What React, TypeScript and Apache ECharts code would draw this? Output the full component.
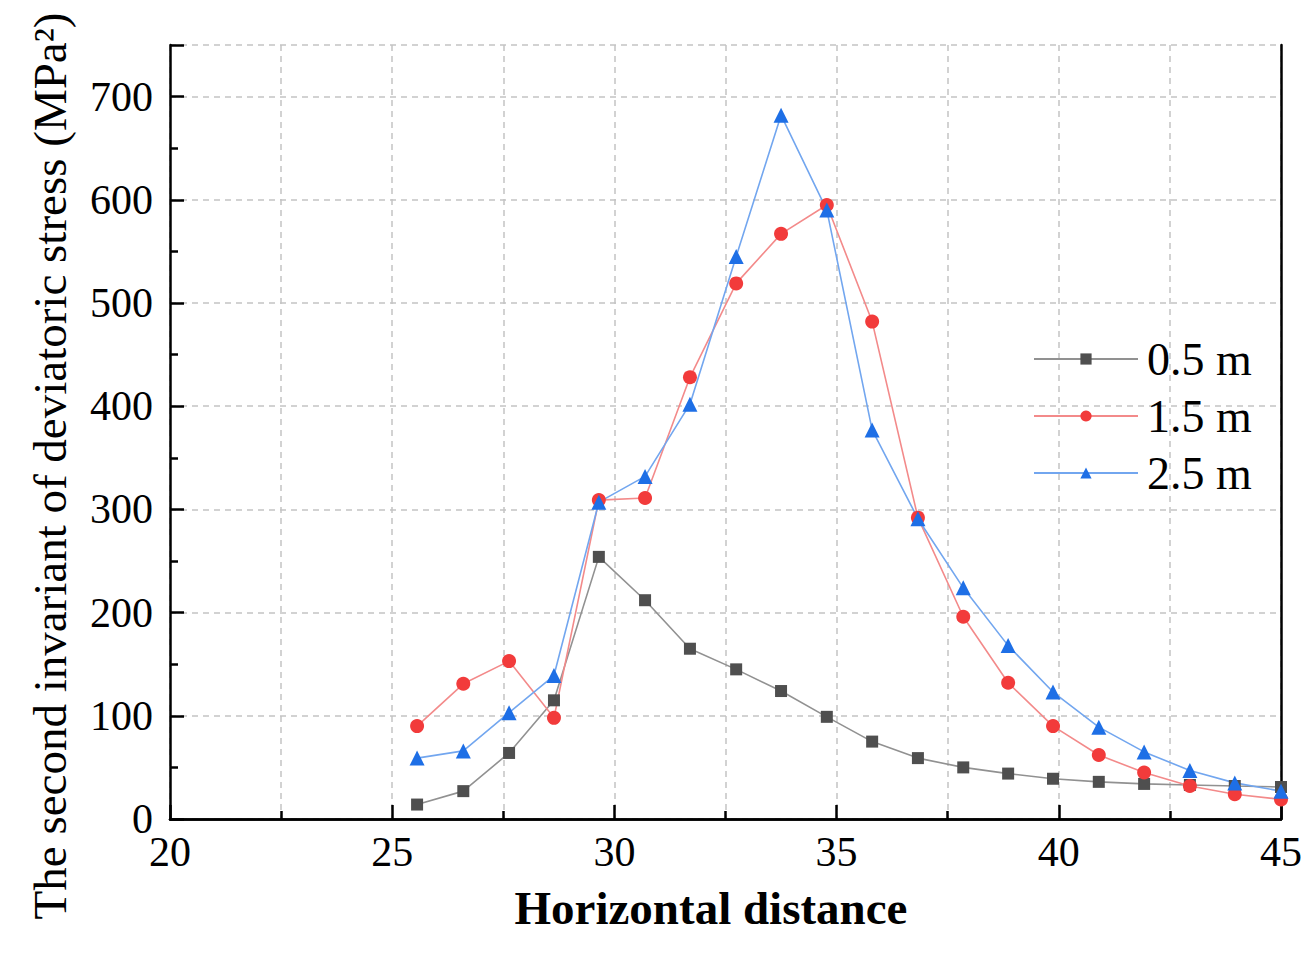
import React, { useEffect, useRef } from "react";
import * as echarts from "echarts";

const xValues = [25.56, 26.6, 27.63, 28.64, 29.65, 30.69, 31.7, 32.74, 33.75, 34.78, 35.8, 36.83, 37.85, 38.86, 39.87, 40.9, 41.92, 42.95, 43.96, 45.0];
const s05 = [14, 27, 64, 115, 254, 212, 165, 145, 124, 99, 75, 59, 50, 44, 39, 36, 34, 33, 32, 31];
const s15 = [90, 131, 153, 98, 309, 311, 428, 519, 567, 595, 482, 292, 196, 132, 90, 62, 45, 32, 24, 19];
const s25 = [59, 66, 103, 139, 307, 332, 402, 545, 682, 590, 377, 291, 224, 168, 123, 89, 65, 47, 35, 27];
const seriesNames = ["0.5 m", "1.5 m", "2.5 m"];

const FONT = "'Liberation Serif', 'Times New Roman', serif";

export default function App() {
  const ref = useRef<HTMLDivElement>(null);
  useEffect(() => {
    document.body.style.margin = "0";
    const chart = echarts.init(ref.current!, null, { renderer: "svg" });
    const pair = (ys: number[]) => xValues.map((x, i) => [x, ys[i]]);
    const gridDash = { color: "#c4c4c4", type: [6, 5] as any, width: 1.5 };
    const frameAxis = {
      axisLine: { show: true, lineStyle: { color: "#000", width: 2.5 } },
      axisTick: { show: false },
      axisLabel: { show: false },
      splitLine: { show: false },
    };
    chart.setOption({
      animation: false,
      backgroundColor: "#fff",
      textStyle: { fontFamily: FONT },
      grid: { left: 170, right: 34, top: 45, bottom: 160 },
      legend: {
        orient: "vertical",
        left: 1028,
        top: 331,
        itemWidth: 104,
        itemHeight: 14,
        itemGap: 11,
        textStyle: { fontFamily: FONT, fontSize: 46, color: "#000", padding: [0, 0, 0, 4] },
        data: seriesNames,
      },
      xAxis: [
        {
          type: "value",
          min: 20,
          max: 45,
          interval: 5,
          axisLine: { lineStyle: { color: "#000", width: 2.5 } },
          axisTick: { inside: true, length: 14, lineStyle: { color: "#000", width: 2.5 } },
          minorTick: { show: true, splitNumber: 2, length: 8, lineStyle: { color: "#000", width: 2.5 } },
          splitLine: { show: true, lineStyle: gridDash },
          minorSplitLine: { show: true, lineStyle: gridDash },
          axisLabel: { fontFamily: FONT, fontSize: 42, color: "#000", margin: 12 },
        },
        { type: "value", position: "top", min: 20, max: 45, interval: 5, ...frameAxis },
      ],
      yAxis: [
        {
          type: "value",
          min: 0,
          max: 750,
          interval: 100,
          axisLine: { lineStyle: { color: "#000", width: 2.5 } },
          axisTick: { inside: true, length: 14, lineStyle: { color: "#000", width: 2.5 } },
          minorTick: { show: true, splitNumber: 2, length: 8, lineStyle: { color: "#000", width: 2.5 } },
          splitLine: { show: true, lineStyle: gridDash },
          axisLabel: { fontFamily: FONT, fontSize: 42, color: "#000", margin: 17, showMaxLabel: false },
        },
        { type: "value", position: "right", min: 0, max: 750, interval: 100, ...frameAxis },
      ],
      graphic: [
        {
          type: "text",
          x: 50,
          y: 466,
          rotation: Math.PI / 2,
          style: {
            text: "The second invariant of deviatoric stress (MPa²)",
            font: `47px ${FONT}`,
            fill: "#000",
            textAlign: "center",
            textVerticalAlign: "middle",
          },
        },
        {
          type: "text",
          x: 711,
          y: 908,
          style: {
            text: "Horizontal distance",
            font: `bold 47px ${FONT}`,
            fill: "#000",
            textAlign: "center",
            textVerticalAlign: "middle",
          },
        },
      ],
      series: [
        {
          name: seriesNames[0],
          type: "line",
          data: pair(s05),
          symbol: "rect",
          symbolSize: 12,
          itemStyle: { color: "#4f4f4f" },
          lineStyle: { color: "#919191", width: 1.6 },
        },
        {
          name: seriesNames[1],
          type: "line",
          data: pair(s15),
          symbol: "circle",
          symbolSize: 14,
          itemStyle: { color: "#f23b3b" },
          lineStyle: { color: "#f38a8a", width: 1.6 },
        },
        {
          name: seriesNames[2],
          type: "line",
          data: pair(s25),
          symbol: "triangle",
          symbolSize: 15,
          itemStyle: { color: "#1e6fe6" },
          lineStyle: { color: "#72a6ef", width: 1.6 },
        },
      ],
    });
    return () => chart.dispose();
  }, []);
  return <div ref={ref} style={{ width: 1315, height: 979 }} />;
}
